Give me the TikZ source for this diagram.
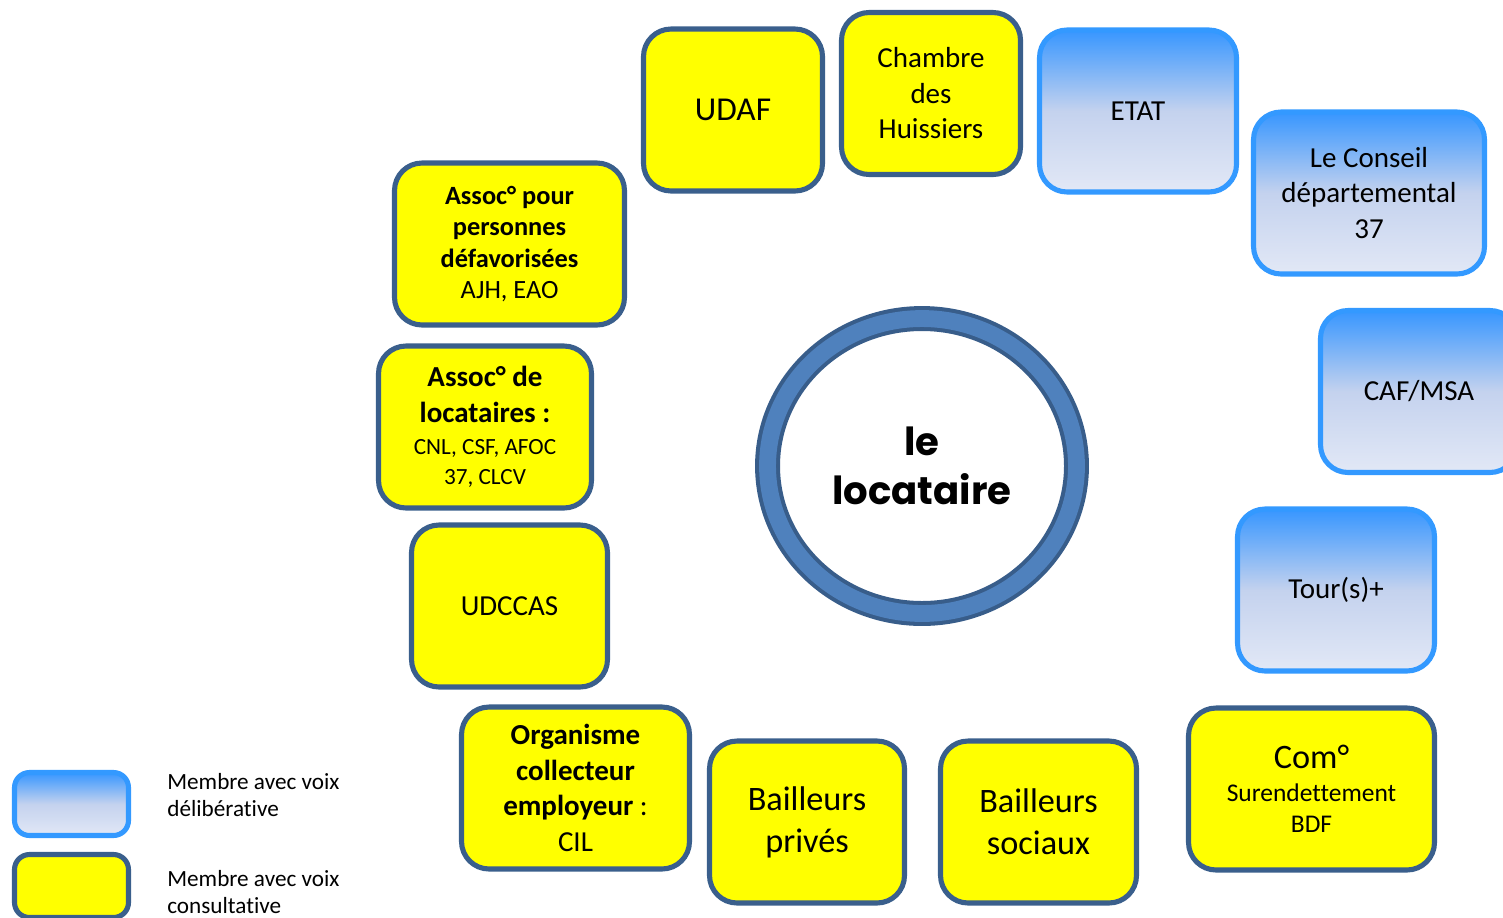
\documentclass[tikz,border=0pt]{standalone}
\usepackage{fontspec}
\setmainfont{Carlito}[Ligatures=NoCommon]
\newfontfamily\locatairefont{Poppins}
\usepackage{tikz}
\usetikzlibrary{shapes.geometric,positioning}

\definecolor{cadre}{RGB}{58,95,140}
\definecolor{jaune}{RGB}{255,255,0}
\definecolor{bleucadre}{RGB}{51,153,255}
\definecolor{bleuhaut}{RGB}{55,150,255}
\definecolor{bleumilieu}{RGB}{196,210,238}
\definecolor{bleubas}{RGB}{226,232,246}
\definecolor{anneau}{RGB}{79,129,189}
\definecolor{anneaubord}{RGB}{56,93,138}

\begin{document}
\begin{tikzpicture}[
        x=0.02cm, y=-0.02cm,
        membre/.style={
                rounded corners=0.55cm,
                line width=2.9pt,
                align=center,
                inner sep=2pt,
                minimum height=3.24cm,
                font=\fontsize{16.5}{20.2}\selectfont
            },
        consultatif/.style={
                membre,
                draw=cadre,
                fill=jaune
            },
        deliberatif/.style={
                membre,
                draw=bleucadre,
                top color=bleuhaut,
                bottom color=bleubas,
                middle color=bleumilieu
            },
        centre/.style={
                ellipse,
                draw=anneaubord,
                line width=2.3pt,
                double=anneau,
                double distance=9.6pt,
                fill=white,
                inner sep=0pt,
                minimum width=6.18cm,
                minimum height=5.9cm,
                align=center,
                font=\locatairefont\bfseries\fontsize{22}{27.8}\selectfont
            },
        legende/.style={
                anchor=west,
                align=left,
                inner sep=0pt,
                font=\fontsize{13.2}{15.9}\selectfont
            },
    ]
    \useasboundingbox (0,0) rectangle (1503,917);
    % Centre
    \node[centre] (locataire) at (922,466) {le\\locataire};
    % Membres avec voix consultative
    \node[consultatif, minimum width=3.58cm, font=\fontsize{19}{23}\selectfont] (udaf) at (733,110) {UDAF};
    \node[consultatif, minimum width=3.58cm] (huissiers) at (931,93.5) {Chambre\\des\\Huissiers};
    \node[consultatif, minimum width=4.6cm, font=\fontsize{15}{17.9}\selectfont] (assocdef) at (509.5,244) {\textbf{Assoc° pour}\\\textbf{personnes}\\\textbf{défavorisées}\\AJH, EAO};
    \node[consultatif, minimum width=4.26cm] (assocloc) at (485,427) {\textbf{Assoc° de}\\\textbf{locataires :}\\[-2pt]{\fontsize{13.2}{16.4}\selectfont CNL, CSF, AFOC}\\[-3pt]{\fontsize{13.2}{16.4}\selectfont 37, CLCV}};
    \node[consultatif, minimum width=3.92cm] (udccas) at (509.5,606) {UDCCAS};
    \node[consultatif, minimum width=4.56cm] (collecteur) at (575.5,788) {\textbf{Organisme}\\\textbf{collecteur}\\\textbf{employeur} :\\CIL};
    \node[consultatif, minimum width=3.9cm, font=\fontsize{19.5}{23.8}\selectfont] (bprives) at (807,822) {Bailleurs\\privés};
    \node[consultatif, minimum width=3.92cm, font=\fontsize{19.5}{23.8}\selectfont] (bsociaux) at (1038.5,822) {Bailleurs\\sociaux};
    \node[consultatif, minimum width=4.92cm, font=\fontsize{14.5}{17.6}\selectfont] (comsur) at (1311.5,789) {{\fontsize{19.5}{23}\selectfont Com°}\\[1pt]Surendettement\\BDF};
    % Membres avec voix deliberative
    \node[deliberatif, minimum width=3.94cm] (etat) at (1138,111) {ETAT};
    \node[deliberatif, minimum width=4.62cm] (conseil) at (1369,193) {Le Conseil\\départemental\\37};
    \node[deliberatif, minimum width=3.94cm] (caf) at (1419,391.5) {CAF/MSA};
    \node[deliberatif, minimum width=3.94cm] (tours) at (1336,590) {Tour(s)+};
    % Legende
    \node[deliberatif, rounded corners=0.3cm, minimum width=2.28cm, minimum height=1.26cm] (legdelib) at (71.5,804) {};
    \node[consultatif, rounded corners=0.3cm, minimum width=2.28cm, minimum height=1.26cm] (legconsult) at (71.5,886) {};
    \node[legende] (txtdelib) at (167,795) {Membre avec voix\\délibérative};
    \node[legende] (txtconsult) at (167,892) {Membre avec voix\\consultative};
\end{tikzpicture}
\end{document}
